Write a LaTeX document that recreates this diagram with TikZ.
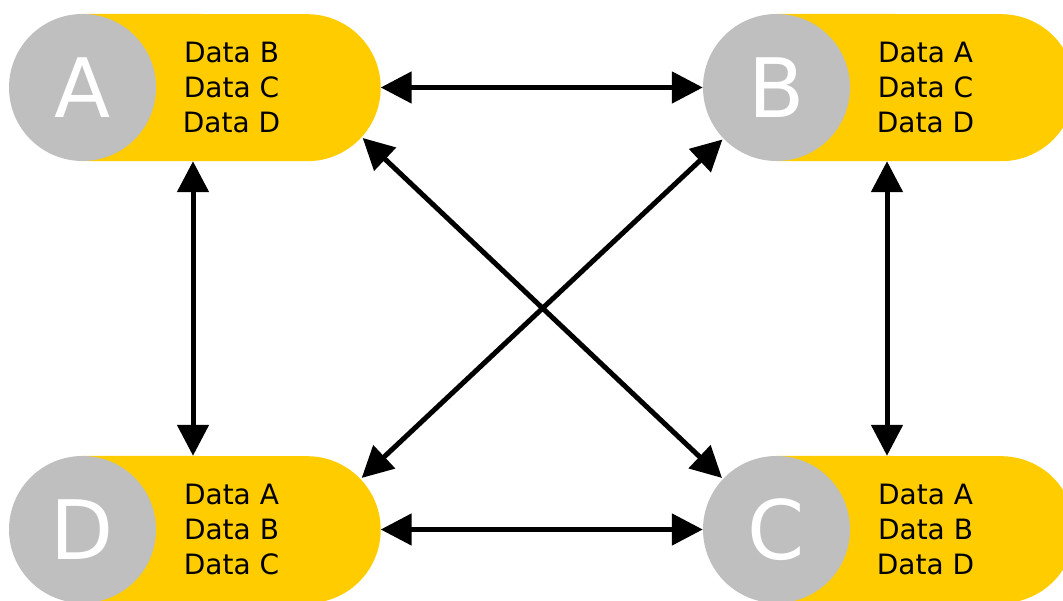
\documentclass[tikz,border=0pt]{standalone}
\usepackage{fontspec}
\setmainfont{DejaVu Sans}
\usetikzlibrary{arrows.meta,calc,backgrounds}
\definecolor{pillyellow}{HTML}{FFCC00}
\definecolor{ballgray}{HTML}{BFBFBF}
\begin{document}
\begin{tikzpicture}[x=1pt,y=1pt,
  ball/.style={circle, fill=ballgray, minimum size=147pt, inner sep=0pt, text=white, font=\fontsize{82}{82}\selectfont},
  datatext/.style={minimum width=298pt, minimum height=147pt, inner sep=0pt, align=center, text=black, font=\fontsize{28}{35}\selectfont},
  pill/.style={fill=pillyellow},
  link/.style={line width=5pt, {Triangle[length=31pt,width=31pt]}-{Triangle[length=31pt,width=31pt]}}]
\useasboundingbox (0,0) rectangle (1063,601);

% data texts (pill frames)
\node[datatext] (pA) at (231.5,513.5) {Data B\\Data C\\Data D};
\node[datatext] (pB) at (925.5,513.5) {Data A\\Data C\\Data D};
\node[datatext] (pC) at (925.5,71.5) {Data A\\Data B\\Data D};
\node[datatext] (pD) at (231.5,71.5) {Data A\\Data B\\Data C};

% yellow pills behind
\begin{pgfonlayer}{background}
\foreach \p in {pA,pB,pC,pD}{
  \fill[pill] (\p.south west) -- ([xshift=-73.5pt]\p.south east)
     arc[start angle=-90, end angle=90, radius=73.5pt] -- (\p.north west) -- cycle;
}
\end{pgfonlayer}

% grey circles
\node[ball] (A) at (82.5,513.5) {A};
\node[ball] (B) at (776.5,513.5) {B};
\node[ball] (C) at (776.5,71.5) {C};
\node[ball] (D) at (82.5,71.5) {D};

% arc centres of the pills' round ends
\coordinate (aArc) at ([xshift=-73.5pt]pA.east);
\coordinate (dArc) at ([xshift=-73.5pt]pD.east);

% connectors
\draw[link] (pA.east) -- (B.west);
\draw[link] (pD.east) -- (C.west);
\draw[link] ([xshift=-38.5pt]pA.south) -- ([xshift=-38.5pt]pD.north);
\draw[link] ([xshift=-38.5pt]pB.south) -- ([xshift=-38.5pt]pC.north);
\draw[link] ($(aArc)+(-42.3:75)$) -- ($(C.center)+(136.6:75)$);
\draw[link] ($(dArc)+(43.4:75)$) -- ($(B.center)+(223.9:75)$);
\end{tikzpicture}
\end{document}
